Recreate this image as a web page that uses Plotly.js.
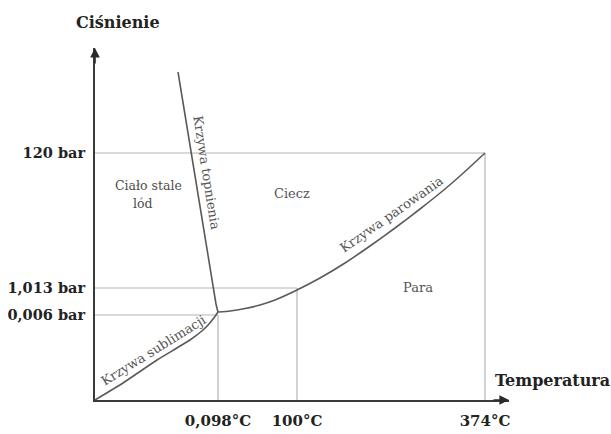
<!DOCTYPE html>
<html>
<head>
<meta charset="utf-8">
<script src="https://cdn.plot.ly/plotly-3.0.1.min.js"></script>
<style>html,body{margin:0;padding:0;background:#fff;}#chart{width:611px;height:434px;}</style>
</head>
<body>
<div id="chart"></div>
<script>
// Schematic phase diagram of water (positions in schematic units)
const xTickVals = [123, 202, 390];
const xTickText = ['0,098°C', '100°C', '374°C'];
const yTickVals = [85, 112, 247];
const yTickText = ['0,006 bar', '1,013 bar', '120 bar'];

// Curves
const sublimationX = [0, 28, 62, 95, 108, 114, 118, 121, 123];
const sublimationY = [0, 17, 40, 60, 70, 76, 81, 85, 88];
const meltingX = [123, 121, 83];
const meltingY = [88, 96, 328];
const vaporX = [123, 135, 150, 165, 180, 202, 225, 250, 275, 300, 325, 350, 370, 390];
const vaporY = [88, 89, 91.5, 95, 100, 110, 122, 137, 154, 172, 191, 211, 228.5, 247];

const tripleX = xTickVals[0], tripleY = yTickVals[0];
const boilX = xTickVals[1], boilY = yTickVals[1];
const critX = xTickVals[2], critY = yTickVals[2];

const guideColor = '#b4b4b4';
const curveColor = '#5a5a5a';
const guide = (x, y) => ({x: x, y: y, mode: 'lines', line: {color: guideColor, width: 1.2}, hoverinfo: 'skip', showlegend: false});
const curve = (x, y, shape) => ({x: x, y: y, mode: 'lines', line: {color: curveColor, width: 1.6, shape: shape, smoothing: 0.5}, hoverinfo: 'skip', showlegend: false});

const traces = [
  guide([0, critX], [critY, critY]),
  guide([0, boilX], [boilY, boilY]),
  guide([0, tripleX], [tripleY, tripleY]),
  guide([tripleX, tripleX], [0, tripleY]),
  guide([boilX, boilX], [0, boilY]),
  guide([critX, critX], [0, critY]),
  curve(sublimationX, sublimationY, 'spline'),
  curve(meltingX, meltingY, 'spline'),
  curve(vaporX, vaporY, 'spline')
];

const serif = 'DejaVu Serif, Liberation Serif, serif';
const labelFont = {family: serif, size: 13, color: '#555'};
const regionFont = {family: serif, size: 12.5, color: '#4d4d4d'};

const ann = (x, y, text, font, angle) => ({x: x, y: y, xref: 'x', yref: 'y', text: text, showarrow: false, font: font, textangle: angle || 0});

const layout = {
  width: 611, height: 434,
  margin: {l: 95, r: 102, t: 48, b: 34},
  paper_bgcolor: '#fff', plot_bgcolor: '#fff',
  showlegend: false,
  xaxis: {
    range: [0, 414], showgrid: false, zeroline: false, showline: true,
    linecolor: '#3a3a3a', linewidth: 2,
    tickvals: xTickVals, ticktext: xTickText, ticks: '',
    ticklabelstandoff: 6,
    tickfont: {family: serif, size: 15, color: '#222', weight: 'bold'},
    fixedrange: true
  },
  yaxis: {
    range: [0, 352], showgrid: false, zeroline: false, showline: true,
    linecolor: '#3a3a3a', linewidth: 2,
    tickvals: yTickVals, ticktext: yTickText, ticks: '',
    ticklabelstandoff: 5,
    tickfont: {family: serif, size: 14.5, color: '#222', weight: 'bold'},
    fixedrange: true
  },
  annotations: [
    {x: 0, y: 352, ax: 0, ay: 335, xref: 'x', yref: 'y', axref: 'x', ayref: 'y', text: '', showarrow: true, arrowhead: 2, arrowsize: 1.2, arrowwidth: 1.6, arrowcolor: '#2a2a2a', standoff: 0},
    {x: 414, y: 0, ax: 397, ay: 0, xref: 'x', yref: 'y', axref: 'x', ayref: 'y', text: '', showarrow: true, arrowhead: 2, arrowsize: 1.2, arrowwidth: 1.6, arrowcolor: '#2a2a2a', standoff: 0},
    {x: 23 / 414, y: 377 / 352, xref: 'paper', yref: 'paper', xanchor: 'center', yanchor: 'middle', text: 'Ciśnienie', showarrow: false, font: {family: serif, size: 16, color: '#222', weight: 'bold'}},
    {x: 457 / 414, y: 20 / 352, xref: 'paper', yref: 'paper', xanchor: 'center', yanchor: 'middle', text: 'Temperatura', showarrow: false, font: {family: serif, size: 16, color: '#222', weight: 'bold'}},
    ann(53, 215, 'Ciało stale', regionFont),
    ann(48, 197, 'lód', regionFont),
    ann(197, 207, 'Ciecz', labelFont),
    ann(323, 113, 'Para', labelFont),
    ann(112, 228, 'Krzywa topnienia', labelFont, 81),
    ann(296, 186, 'Krzywa parowania', labelFont, -35),
    ann(58, 50, 'Krzywa sublimacji', labelFont, -32)
  ]
};

Plotly.newPlot('chart', traces, layout, {displayModeBar: false, staticPlot: true});
</script>
</body>
</html>
